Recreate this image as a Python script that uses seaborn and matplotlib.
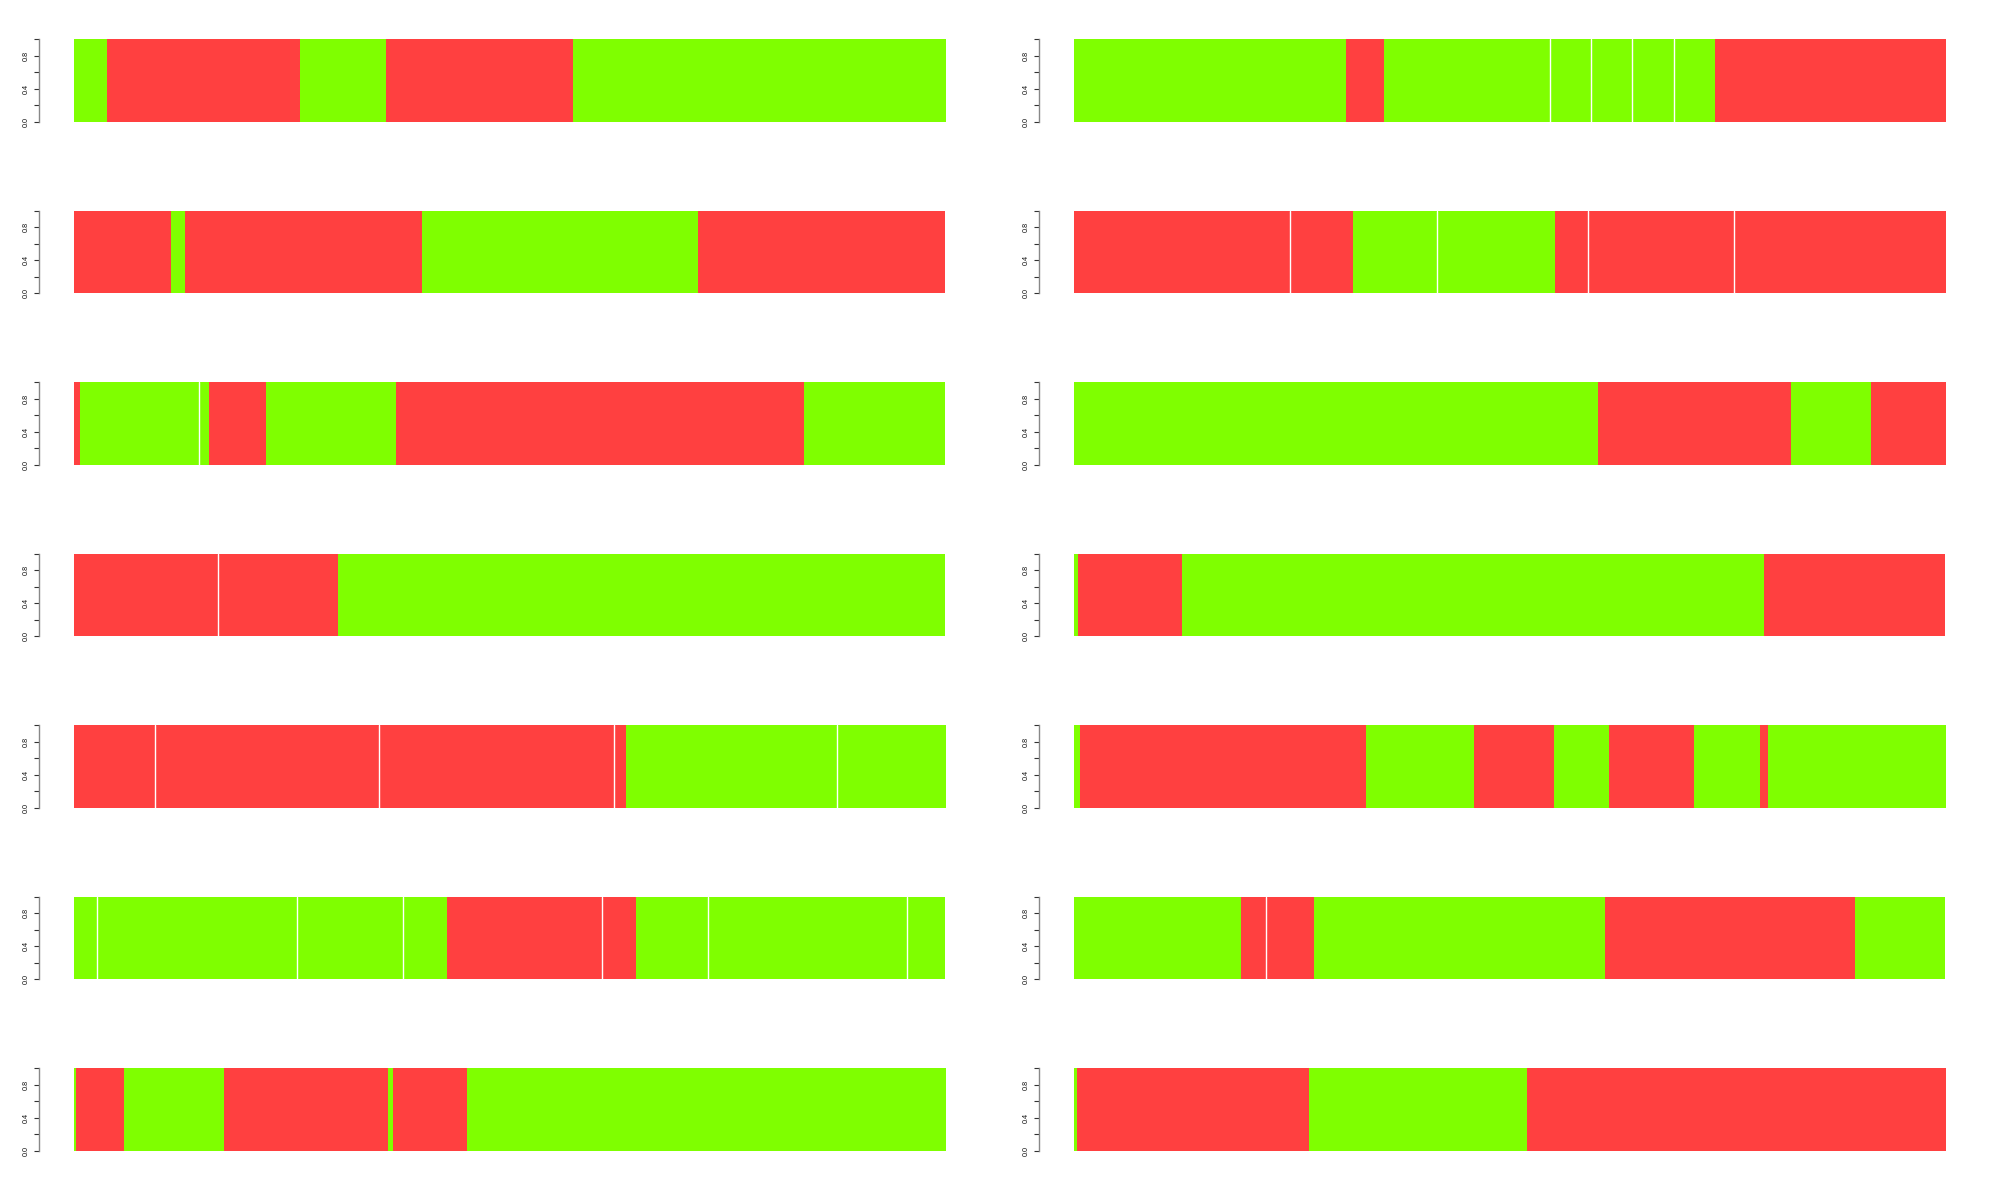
import numpy as np
import pandas as pd
import matplotlib.pyplot as plt
import seaborn as sns

GREEN = "#7fff00"
RED = "#ff4040"

# segment lengths per strip (G = green, R = red)
left_widths = [
    [59, 344, 153, 333, 664],
    [173, 25, 422, 492, 441],
    [11, 212, 18, 101, 231, 728, 252],
    [257, 214, 1082],
    [144, 399, 420, 21, 376, 193],
    [41, 356, 190, 78, 276, 61, 128, 355, 68],
    [4, 85, 178, 293, 8, 132, 853],
]
left_states = ["GRGRG", "RGRGR", "RGGRGRG", "RRG", "RRRRGG", "GGGGRRGGG", "GRGRGRG"]

right_widths = [
    [485, 68, 295, 73, 73, 75, 73, 411],
    [385, 113, 148, 211, 59, 260, 377],
    [934, 344, 142, 133],
    [7, 186, 1037, 323],
    [11, 510, 191, 143, 99, 151, 118, 14, 316],
    [298, 44, 86, 518, 446, 161],
    [5, 413, 389, 746],
]
right_states = ["GRGGGGGR", "RRGGRRR", "GRGR", "GRGR", "GRGRGRGRG", "GRRGRG", "GRGR"]

y_ticks = [0.0, 0.2, 0.4, 0.6, 0.8, 1.0]
y_labels = ["0.0", "", "0.4", "", "0.8", ""]


def draw_strip(ax, widths, states):
    edges = np.concatenate([[0], np.cumsum(widths)])
    df = pd.DataFrame({"pos": (edges[:-1] + edges[1:]) / 2, "state": list(states)})
    sns.histplot(
        data=df, x="pos", bins=edges, hue="state", hue_order=["G", "R"],
        palette={"G": GREEN, "R": RED}, multiple="layer", alpha=1,
        linewidth=0, legend=False, ax=ax,
    )
    # thin white breaks between neighbouring segments of the same colour
    for i in range(len(states) - 1):
        if states[i] == states[i + 1]:
            ax.axvline(edges[i + 1], color="white", lw=1.0)

    # spine position first: moving it resets the ticks
    for side in ["top", "right", "bottom"]:
        ax.spines[side].set_visible(False)
    ax.spines["left"].set_position(("outward", 25))
    ax.spines["left"].set_bounds(0, 1)
    ax.spines["left"].set_color("#888888")
    ax.spines["left"].set_linewidth(1.0)
    ax.patch.set_visible(False)

    ax.set_xlim(0, edges[-1])
    ax.set_ylim(0, 1)
    ax.set_xlabel("")
    ax.set_ylabel("")
    ax.set_xticks([])
    ax.set_yticks(y_ticks)
    ax.tick_params(axis="y", left=True, labelleft=True, labelrotation=90,
                   length=3.6, width=0.8, color="#333333", pad=3,
                   labelsize=5.2, labelcolor="#111111")
    ax.set_yticklabels(y_labels, family=["Liberation Sans", "DejaVu Sans"],
                       va="center", ha="right")


def main() -> None:
    sns.set_style("ticks")
    fig = plt.figure(figsize=(20, 12), dpi=100)

    W, H = 2000, 1200
    col_x = [74, 1074]
    panel_w = 871.5
    panel_h = 82.7
    top0, pitch = 39, 171.5

    for col, (widths_list, states_list) in enumerate(
        [(left_widths, left_states), (right_widths, right_states)]
    ):
        for row, (widths, states) in enumerate(zip(widths_list, states_list)):
            top = top0 + pitch * row
            ax = fig.add_axes([
                col_x[col] / W,
                1 - (top + panel_h) / H,
                panel_w / W,
                panel_h / H,
            ])
            draw_strip(ax, widths, states)

    fig.savefig("out.png", dpi=100)


if __name__ == "__main__":
    main()
